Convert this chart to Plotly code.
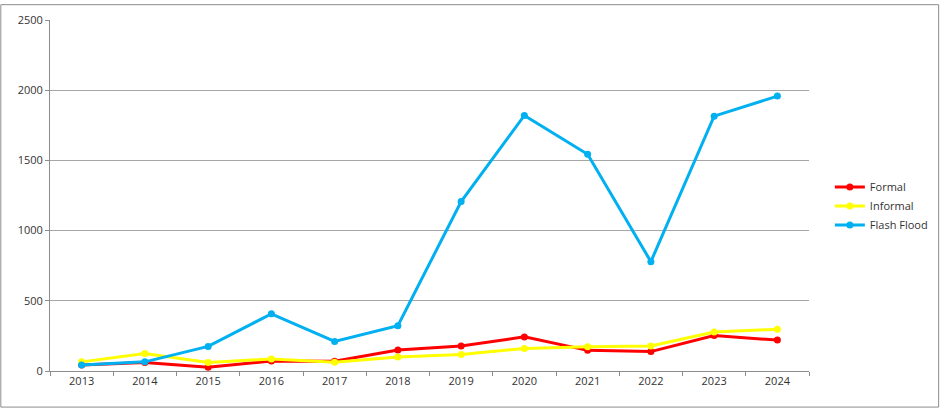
import plotly.graph_objects as go

years = ["2013", "2014", "2015", "2016", "2017", "2018", "2019", "2020", "2021", "2022", "2023", "2024"]
formal = [42, 61, 26, 72, 70, 150, 178, 243, 147, 138, 253, 220]
informal = [65, 124, 61, 86, 63, 100, 117, 161, 173, 178, 278, 297]
flash_flood = [42, 65, 175, 407, 211, 323, 1207, 1820, 1544, 779, 1815, 1958]

fig = go.Figure()
for name, vals, col in [("Formal", formal, "#FF0000"),
                        ("Informal", informal, "#FFFF00"),
                        ("Flash Flood", flash_flood, "#00B0F0")]:
    fig.add_trace(go.Scatter(x=years, y=vals, name=name, mode="lines+markers",
                             line=dict(color=col, width=3),
                             marker=dict(color=col, size=7)))

W, H = 945, 408
L, R, T, B = 50, 131, 16, 37
pw, ph = W - L - R, H - T - B

fig.update_layout(
    width=W, height=H,
    margin=dict(l=L, r=R, t=T, b=B),
    paper_bgcolor="white", plot_bgcolor="white",
    font=dict(family="Open Sans, Liberation Sans, sans-serif", size=11, color="#333333"),
    legend=dict(x=(835 - L) / pw, y=(H - B - 204) / ph, xanchor="left", yanchor="middle",
                font=dict(size=11, color="#333333"), tracegroupgap=0, itemwidth=30,
                bgcolor="rgba(0,0,0,0)"),
    showlegend=True,
    xaxis=dict(type="category", tickson="boundaries", ticks="outside", ticklen=4,
               tickcolor="#8c8c8c", showline=True, linecolor="#8c8c8c", linewidth=1,
               showgrid=False, zeroline=False, range=[-0.5, 11.5],
               tickfont=dict(size=11, color="#333333")),
    yaxis=dict(range=[0, 2500], tickvals=[0, 500, 1000, 1500, 2000, 2500],
               ticks="outside", ticklen=4, tickcolor="#8c8c8c",
               showline=True, linecolor="#8c8c8c", linewidth=1,
               showgrid=True, gridcolor="#a6a6a6", gridwidth=1, zeroline=False,
               tickfont=dict(size=11, color="#333333")),
    shapes=[dict(type="rect", xref="paper", yref="paper",
                 x0=(0.5 - L) / pw, x1=(W - 0.5 - L) / pw,
                 y0=(H - B - (H - 0.5)) / ph, y1=(H - B - 0.5) / ph,
                 line=dict(color="#8c8c8c", width=1), layer="below")],
)

fig.write_html(
    "out.html",
    config={"displayModeBar": False},
    post_script=("document.documentElement.style.margin='0';"
                 "document.documentElement.style.overflow='hidden';"
                 "document.body.style.margin='0';"
                 "document.body.style.overflow='hidden';"
                 "var d=document.getElementById('{plot_id}');"
                 "d.style.position='fixed';d.style.left='0px';d.style.top='0px';"),
)
